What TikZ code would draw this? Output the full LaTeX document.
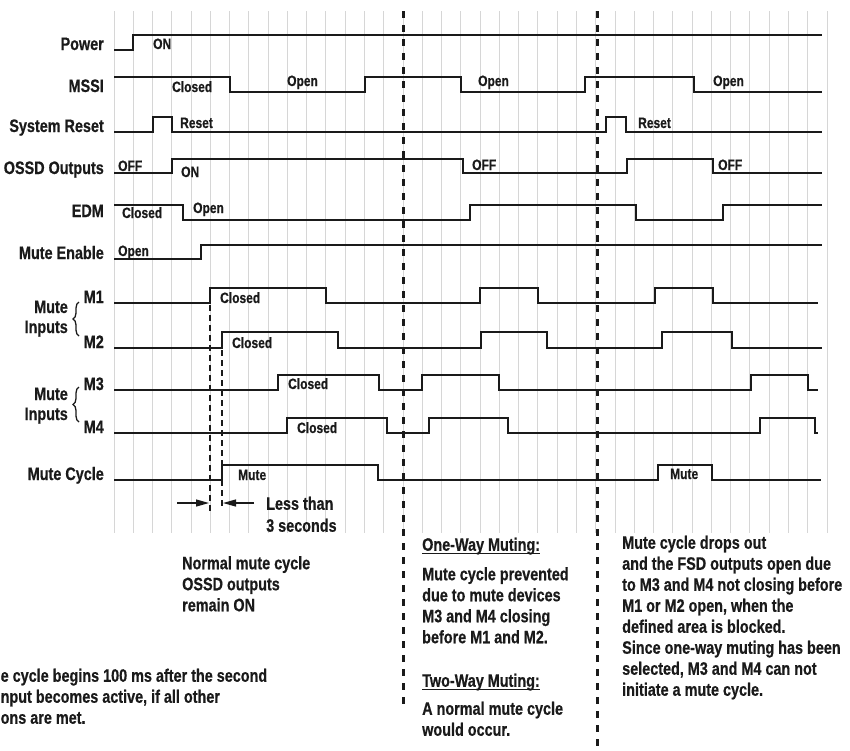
\documentclass[tikz,border=0pt]{standalone}
\usepackage{fontspec}
\setmainfont{Liberation Sans}[FakeStretch=0.8,BoldFeatures={FakeBold=0.6}]
\usepackage{xcolor}
\definecolor{cWave}{HTML}{1A1A1A}
\definecolor{cGrid}{HTML}{D6D6D6}
\definecolor{cText}{HTML}{1A1A1A}
\usetikzlibrary{arrows.meta,decorations.pathreplacing}
\newcommand{\sigfont}{\fontsize{18}{21}\selectfont\bfseries}
\newcommand{\lvlfont}{\fontsize{15}{18}\selectfont\bfseries}
\tikzset{
  grid-line/.style={draw=cGrid,line width=1pt},
  wave/.style={draw=cWave,line width=1.4pt},
  sync-line/.style={draw=cWave,line width=3pt,dash pattern=on 7pt off 7pt},
  mark-line/.style={draw=cWave,line width=1.2pt,dash pattern=on 6pt off 4pt},
  sig-label/.style={anchor=base east,inner sep=0pt,font=\sigfont,text=cText},
  lvl-label/.style={anchor=base west,inner sep=0pt,font=\lvlfont,text=cText},
  note-text/.style={anchor=north west,inner sep=0pt,align=left,font=\sigfont,text=cText},
  arrow/.style={-{Triangle[length=13pt,width=7pt]},line width=1.3pt,draw=cWave},
  in-brace/.style={draw=cWave,line width=1.3pt,decorate,decoration={brace,amplitude=6pt}},
}

\begin{document}
\begin{tikzpicture}[x=1pt,y=-1pt]
  \useasboundingbox (0,0) rectangle (850,750);
  % grid
  \foreach \k in {0,...,37}
    \draw[grid-line] ({114+19.27*\k},11) -- ({114+19.27*\k},533);

  % signal names
  \node[sig-label] (lbl-power) at (104,50)  {Power};
  \node[sig-label] (lbl-mssi)  at (104,92)  {MSSI};
  \node[sig-label] (lbl-reset) at (104,132) {System Reset};
  \node[sig-label] (lbl-ossd)  at (104,174) {OSSD Outputs};
  \node[sig-label] (lbl-edm)   at (104,217) {EDM};
  \node[sig-label] (lbl-enable) at (104,259) {Mute Enable};
  \node[sig-label] (lbl-m1)    at (104,303) {M1};
  \node[sig-label] (lbl-m2)    at (104,348) {M2};
  \node[sig-label] (lbl-m3)    at (104,390) {M3};
  \node[sig-label] (lbl-m4)    at (104,433) {M4};
  \node[sig-label] (lbl-cycle) at (104,480) {Mute Cycle};
  \node[sig-label] (lbl-mute-a)   at (68,313) {Mute};
  \node[sig-label] (lbl-inputs-a) at (68,333) {Inputs};
  \node[sig-label] (lbl-mute-b)   at (68,400) {Mute};
  \node[sig-label] (lbl-inputs-b) at (68,420) {Inputs};
  \draw[in-brace] (79,336) -- (79,302);
  \draw[in-brace] (79,422) -- (79,387);

  % waveforms
  \draw[wave] (114,50) -- (133,50) -- (133,35) -- (822,35);
  \draw[wave] (114,77) -- (230,77) -- (230,92) -- (365,92) -- (365,77) -- (461,77)
    -- (461,92) -- (585,92) -- (585,77) -- (694,77) -- (694,92) -- (822,92);
  \draw[wave] (114,132) -- (153,132) -- (153,117) -- (172,117) -- (172,132) -- (606,132)
    -- (606,117) -- (626,117) -- (626,132) -- (822,132);
  \draw[wave] (114,173) -- (172,173) -- (172,159) -- (463,159) -- (463,173) -- (627,173)
    -- (627,159) -- (713,159) -- (713,173) -- (822,173);
  \draw[wave] (114,205) -- (183,205) -- (183,220) -- (470,220) -- (470,205) -- (636,205)
    -- (636,220) -- (723,220) -- (723,205) -- (822,205);
  \draw[wave] (114,259) -- (201,259) -- (201,245) -- (822,245);
  \draw[wave] (114,303) -- (210,303) -- (210,288) -- (326,288) -- (326,303) -- (480,303)
    -- (480,288) -- (538,288) -- (538,303) -- (655,303) -- (655,288) -- (713,288)
    -- (713,303) -- (818,303);
  \draw[wave] (114,348) -- (222,348) -- (222,332) -- (338,332) -- (338,348) -- (481,348)
    -- (481,332) -- (547,332) -- (547,348) -- (662,348) -- (662,332) -- (732,332)
    -- (732,348) -- (822,348);
  \draw[wave] (114,390) -- (278,390) -- (278,375) -- (379,375) -- (379,390) -- (422,390)
    -- (422,375) -- (499,375) -- (499,390) -- (751,390) -- (751,375) -- (808,375)
    -- (808,390) -- (818,390);
  \draw[wave] (114,433) -- (287,433) -- (287,418) -- (387,418) -- (387,433) -- (429,433)
    -- (429,418) -- (508,418) -- (508,433) -- (760,433) -- (760,418) -- (815,418)
    -- (815,433) -- (818,433);
  \draw[wave] (114,480) -- (222,480) -- (222,465) -- (378,465) -- (378,480) -- (658,480)
    -- (658,465) -- (712,465) -- (712,480) -- (821,480);

  % level names
  \node[lvl-label] (on-power)  at (153,49)  {ON};
  \node[lvl-label] (mssi-cl)   at (172,92)  {Closed};
  \node[lvl-label] (mssi-op-a) at (287,86)  {Open};
  \node[lvl-label] (mssi-op-b) at (478,86)  {Open};
  \node[lvl-label] (mssi-op-c) at (713,86)  {Open};
  \node[lvl-label] (reset-a)   at (180,128) {Reset};
  \node[lvl-label] (reset-b)   at (638,128) {Reset};
  \node[lvl-label] (ossd-off-a) at (118,171) {OFF};
  \node[lvl-label] (ossd-on)   at (181,177) {ON};
  \node[lvl-label] (ossd-off-b) at (472,170) {OFF};
  \node[lvl-label] (ossd-off-c) at (718,170) {OFF};
  \node[lvl-label] (edm-cl)    at (122,218) {Closed};
  \node[lvl-label] (edm-op)    at (193,213) {Open};
  \node[lvl-label] (enable-op) at (118,256) {Open};
  \node[lvl-label] (m1-cl)     at (220,303) {Closed};
  \node[lvl-label] (m2-cl)     at (232,348) {Closed};
  \node[lvl-label] (m3-cl)     at (288,389) {Closed};
  \node[lvl-label] (m4-cl)     at (297,433) {Closed};
  \node[lvl-label] (cycle-a)   at (238,480) {Mute};
  \node[lvl-label] (cycle-b)   at (670,479) {Mute};

  % timing marks
  \draw[mark-line] (210,305) -- (210,512);
  \draw[mark-line] (222,350) -- (222,507);
  \coordinate (t-in-a) at (177,503);
  \coordinate (t-a) at (209,503);
  \coordinate (t-in-b) at (254,503);
  \coordinate (t-b) at (223,503);
  \draw[arrow] (t-in-a) -- (t-a);
  \draw[arrow] (t-in-b) -- (t-b);
  \node[note-text,font=\fontsize{18}{22}\selectfont\bfseries] (less) at (266,496.5) {Less than\\3 seconds};

  % event lines
  \draw[sync-line] (403,11) -- (403,710);
  \draw[sync-line] (597,11) -- (597,748);

  % notes
  \node[note-text] (note-normal) at (182,556) {Normal mute cycle\\OSSD outputs\\remain ON};
  \node[note-text] (note-begin) at (0.5,668.5) {e cycle begins 100 ms after the second\\nput becomes active, if all other\\ons are met.};
  \node[note-text] (one-way) at (422,537.5) {One-Way Muting:};
  \draw[draw=cWave,line width=1pt] ([yshift=-3pt]one-way.base west) -- ([yshift=-3pt]one-way.base east);
  \node[note-text] (note-one) at (422,567) {Mute cycle prevented\\due to mute devices\\M3 and M4 closing\\before M1 and M2.};
  \node[note-text] (two-way) at (422,673.5) {Two-Way Muting:};
  \draw[draw=cWave,line width=1pt] ([yshift=-3pt]two-way.base west) -- ([yshift=-3pt]two-way.base east);
  \node[note-text] (note-two) at (422,701.5) {A normal mute cycle\\would occur.};
  \node[note-text] (note-drop) at (622,535.5) {Mute cycle drops out\\and the FSD outputs open due\\to M3 and M4 not closing before\\M1 or M2 open, when the\\defined area is blocked.\\Since one-way muting has been\\selected, M3 and M4 can not\\initiate a mute cycle.};
\end{tikzpicture}
\end{document}
